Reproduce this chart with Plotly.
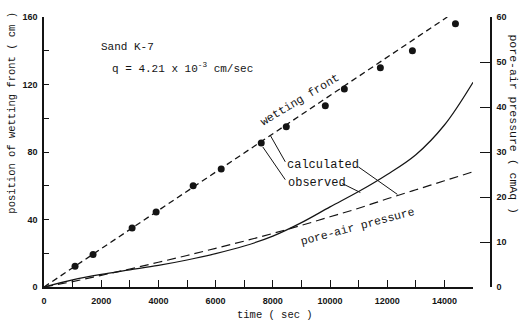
import plotly.graph_objects as go

# Observed position of the wetting front (time in s, depth in cm)
obs_time = [1085, 1715, 3080, 3920, 5215, 6195, 7595, 8470, 9835, 10500, 11760, 12880, 14385]
obs_depth = [12.3, 19.3, 35.0, 44.4, 60.0, 70.0, 85.3, 95.0, 107.4, 117.4, 130.0, 140.0, 156.0]

# Calculated wetting front (straight line through the origin)
wf_time = [0, 14100]
wf_depth = [0, 160]

# Pore-air pressure (cmAq) vs time
p_time = [0, 1000, 2000, 3000, 4000, 5000, 6000, 7000, 8000, 9000,
          10000, 11000, 12000, 13000, 14000, 15000]
p_calc = [0, 1.2, 2.6, 4.0, 5.5, 7.0, 8.6, 10.2, 11.9, 13.7,
          15.6, 17.5, 19.6, 21.6, 23.6, 25.6]
p_obs = [0, 1.6, 2.8, 3.8, 4.8, 6.0, 7.4, 9.1, 11.3, 14.3,
         17.8, 21.2, 25.0, 29.4, 36.0, 45.5]

x_ticks = [0, 2000, 4000, 6000, 8000, 10000, 12000, 14000]
y_ticks = [0, 40, 80, 120, 160]
y2_ticks = [0, 10, 20, 30, 40, 50, 60]

INK = "#141414"
MONO = "Liberation Mono"
NUM = dict(family="Liberation Sans", size=9, color=INK, weight="bold")

fig = go.Figure()

fig.add_trace(go.Scatter(
    x=wf_time, y=wf_depth, mode="lines",
    line=dict(color=INK, width=1.3, dash="6px,4px"), yaxis="y"))
fig.add_trace(go.Scatter(
    x=obs_time, y=obs_depth, mode="markers",
    marker=dict(color=INK, size=7), yaxis="y"))
fig.add_trace(go.Scatter(
    x=p_time, y=p_calc, mode="lines", line_shape="spline",
    line=dict(color=INK, width=1.2, dash="9px,5px"), yaxis="y2"))
fig.add_trace(go.Scatter(
    x=p_time, y=p_obs, mode="lines", line_shape="spline",
    line=dict(color=INK, width=1.2), yaxis="y2"))

W, H = 519, 324
ML, MR, MT, MB = 44, 25, 13, 37
pw = W - ML - MR
ph = H - MT - MB


def px(x):
    return (x - ML) / pw


def py(y):
    return (H - MB - y) / ph


fig.update_layout(
    width=W, height=H,
    margin=dict(l=ML, r=MR, t=MT, b=MB, pad=0),
    paper_bgcolor="white", plot_bgcolor="white",
    showlegend=False,
    font=dict(family=MONO, color=INK),
    xaxis=dict(
        domain=[0, (474 - ML) / pw], range=[0, 15000],
        tickvals=x_ticks, ticktext=[str(v) for v in x_ticks],
        ticks="inside", ticklen=7, tickwidth=1.2, tickcolor=INK,
        minor=dict(dtick=1000, tick0=0, ticks="inside", ticklen=7, tickwidth=1.2, tickcolor=INK),
        showline=True, linecolor=INK, linewidth=1.5,
        showgrid=False, zeroline=False, tickfont=NUM, ticklabelstandoff=4),
    yaxis=dict(
        range=[0, 160], tickvals=y_ticks, ticktext=[str(v) for v in y_ticks],
        ticks="inside", ticklen=5, tickwidth=1.2, tickcolor=INK,
        minor=dict(dtick=20, tick0=0, ticks="inside", ticklen=5, tickwidth=1.2, tickcolor=INK),
        showline=True, linecolor=INK, linewidth=1.5,
        showgrid=False, zeroline=False, tickfont=NUM, ticklabelstandoff=3),
    yaxis2=dict(
        range=[0, 60], tickvals=y2_ticks, ticktext=[str(v) for v in y2_ticks],
        overlaying="y", side="right",
        anchor="free", position=px(492),
        ticks="inside", ticklen=10, tickwidth=1.2, tickcolor=INK,
        showline=True, linecolor=INK, linewidth=1.5,
        showgrid=False, zeroline=False, tickfont=NUM, ticklabelstandoff=3),
)

annotations = [
    dict(text="position of wetting front ( cm )", x=px(12), y=py(110),
         xref="paper", yref="paper", textangle=-90, font=dict(size=10.5)),
    dict(text="pore-air pressure ( cmAq )", x=px(515), y=py(122),
         xref="paper", yref="paper", textangle=90, font=dict(size=11.5)),
    dict(text="time ( sec )", x=px(276), y=py(315),
         xref="paper", yref="paper", font=dict(size=10.5)),
    dict(text="Sand K-7", x=1925, y=142.5, xref="x", yref="y",
         xanchor="left", font=dict(size=11)),
    dict(text="q = 4.21 x 10<sup>-3</sup> cm/sec", x=2310, y=130, xref="x", yref="y",
         xanchor="left", font=dict(size=11)),
    dict(text="wetting front", x=8950, y=111, xref="x", yref="y",
         textangle=-31, font=dict(size=11.5)),
    dict(text="pore-air pressure", x=10955, y=35.6, xref="x", yref="y",
         textangle=-15, font=dict(size=11.5)),
    dict(text="calculated", x=8435, y=72.4, xref="x", yref="y",
         xanchor="left", font=dict(size=12)),
    dict(text="observed", x=8470, y=61.9, xref="x", yref="y",
         xanchor="left", font=dict(size=12)),
]
for a in annotations:
    a.setdefault("showarrow", False)
    a.setdefault("xanchor", "center")
    a.setdefault("yanchor", "middle")
fig.update_layout(annotations=annotations)

# leader lines from the labels to the curves they name
leaders = [
    (8435, 74.2, 7910, 89.9),
    (8435, 63.6, 7650, 83.0),
    (10990, 71.2, 12355, 54.9),
    (10430, 61.3, 11060, 56.0),
]
for x0, y0, x1, y1 in leaders:
    fig.add_shape(type="line", xref="x", yref="y", x0=x0, y0=y0, x1=x1, y1=y1,
                  line=dict(color=INK, width=1))

fig.write_html("out.html")
